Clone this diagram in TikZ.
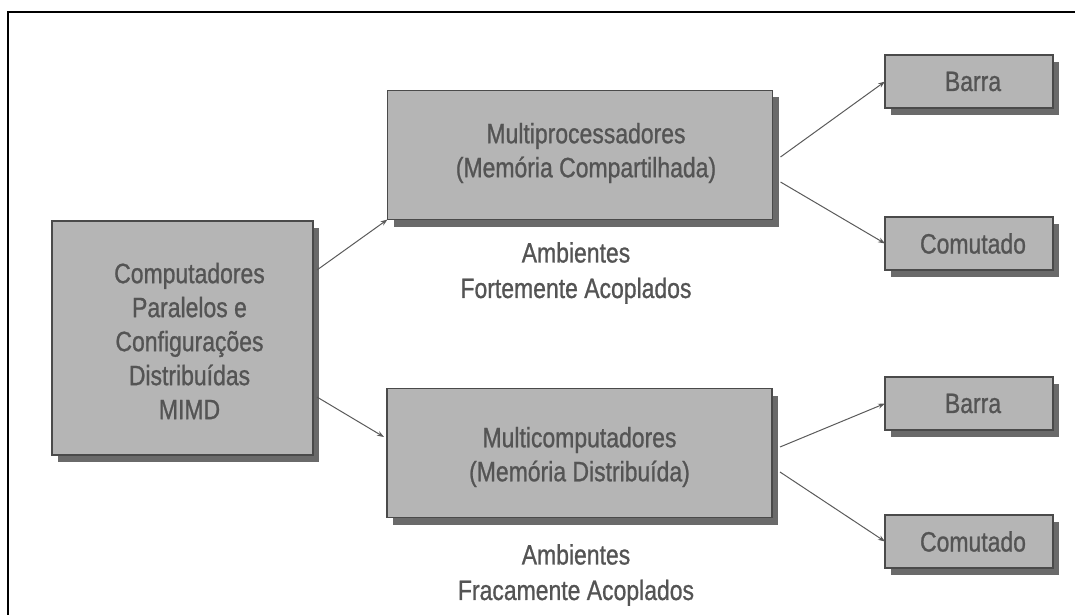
\documentclass[tikz,border=0pt]{standalone}
\usepackage{fontspec}
\setmainfont{Liberation Sans}[FakeStretch=0.82,FakeBold=0.9]
\usetikzlibrary{shadows,arrows.meta}
\definecolor{boxfill}{HTML}{B5B5B5}
\definecolor{boxline}{HTML}{4A4A4A}
\definecolor{boxshade}{HTML}{6A6A6A}
\definecolor{ink}{HTML}{545454}
\definecolor{wire}{HTML}{5A5A5A}
\begin{document}
\begin{tikzpicture}[x=1pt,y=-1pt,
  box/.style={draw=boxline, line width=1.8pt, fill=boxfill, inner sep=0pt, outer sep=0pt,
    drop shadow={shadow xshift=6pt, shadow yshift=-7pt, fill=boxshade, opacity=1}},
  lbl/.style={text=ink, align=center, inner sep=0pt, font=\fontsize{28}{34}\selectfont},
  note/.style={text=ink, align=center, inner sep=0pt, font=\fontsize{28}{35.5}\selectfont},
  big/.style={box, minimum width=385pt, minimum height=129pt},
  small/.style={box, minimum width=168pt, minimum height=53pt},
  arr/.style={draw=wire, line width=1pt, -{Stealth[length=7pt,width=5pt]}},
  frame/.style={draw=black, line width=1.8pt}]
\useasboundingbox (0,0) rectangle (1075,615);

% page frame: top and left rules
\draw[frame] (1075,12) -- (8,12) -- (8,615);

% root box
\node[box, minimum width=261pt, minimum height=234pt,
  label={[lbl,xshift=7pt,yshift=-3pt]center:Computadores\\Paralelos e\\Configurações\\Distribuídas\\MIMD}]
  (src) at (182.5,338) {};

% middle level
\node[big, label={[lbl,xshift=6pt,yshift=2pt]center:Multiprocessadores\\(Memória Compartilhada)}]
  (mp) at (580,155) {};
\node[big, label={[lbl,yshift=-4pt]center:Multicomputadores\\(Memória Distribuída)}]
  (mc) at (579.5,453) {};

% captions under the middle boxes
\node[note] (amb1) at (576,273) {Ambientes\\Fortemente Acoplados};
\node[note] (amb2) at (576,575) {Ambientes\\Fracamente Acoplados};

% interconnect kinds
\node[small, label={[lbl,xshift=4pt]center:Barra}] (b1) at (969,81.5) {};
\node[small, label={[lbl,xshift=4pt]center:Comutado}] (c1) at (969,243.5) {};
\node[small, label={[lbl,xshift=4pt]center:Barra}] (b2) at (969,403.5) {};
\node[small, label={[lbl,xshift=4pt]center:Comutado}] (c2) at (969,541.5) {};

% connectors
\draw[arr] ([shift={(4,-68)}]src.east) -- (mp.south west);
\draw[arr] ([shift={(4,59)}]src.east) -- ([shift={(-3,-16)}]mc.west);
\draw[arr] ([shift={(8,2)}]mp.east) -- (b1.west);
\draw[arr] ([shift={(8,27)}]mp.east) -- (c1.west);
\draw[arr] ([shift={(8,-6)}]mc.east) -- (b2.west);
\draw[arr] ([shift={(8,19)}]mc.east) -- (c2.west);
\end{tikzpicture}
\end{document}
